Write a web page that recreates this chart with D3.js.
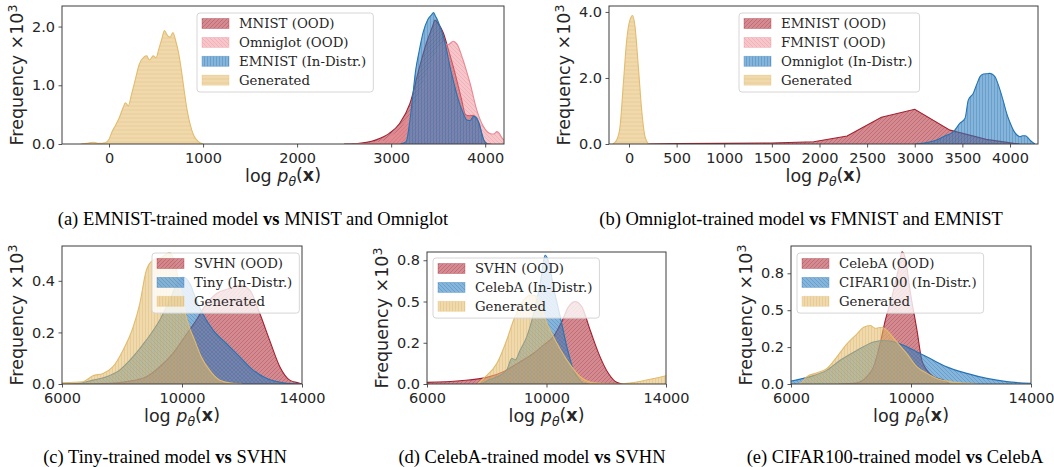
<!DOCTYPE html>
<html>
<head>
<meta charset="utf-8">
<script src="https://cdn.jsdelivr.net/npm/d3@7"></script>
<style>
  body { margin: 0; background: #fff; }
</style>
</head>
<body>
<div id="chart"></div>
<script>
// density curves, values in units of 10^3, keyed by log p(x)

// (a) EMNIST-trained model
const aMnist = [[2500,0],[2620,0.005],[2840,0.07],[2980,0.18],[3090,0.35],[3200,0.69],[3300,1.3],[3375,1.72],[3440,2.0],[3465,2.11],[3500,2.05],[3555,1.89],[3610,1.6],[3660,1.32],[3750,0.75],[3790,0.5],[3830,0.48],[3875,0.49],[3910,0.42],[3945,0.3],[3980,0.08],[4020,0.01],[4060,0]];
const aOmniglot = [[2600,0],[2750,0.01],[2910,0.04],[3000,0.12],[3090,0.24],[3160,0.38],[3230,0.58],[3290,0.8],[3340,1.03],[3390,1.22],[3445,1.43],[3500,1.6],[3555,1.72],[3605,1.69],[3660,1.75],[3700,1.7],[3765,1.43],[3800,1.25],[3840,1.03],[3910,0.58],[3980,0.3],[4050,0.18],[4090,0.17],[4125,0.21],[4150,0.18],[4180,0.1],[4230,0.04]];
const aEmnist = [[3100,0],[3160,0.04],[3195,0.35],[3225,0.75],[3260,1.25],[3300,1.6],[3340,1.9],[3390,2.12],[3430,2.2],[3450,2.24],[3470,2.18],[3490,2.12],[3520,2.0],[3555,1.83],[3590,1.6],[3625,1.32],[3670,1.02],[3715,0.75],[3760,0.55],[3805,0.41],[3840,0.4],[3875,0.47],[3900,0.46],[3930,0.38],[3960,0.2],[3985,0.07],[4020,0]];
const aGenerated = [[-300,0],[-230,0.01],[-170,0.03],[-110,0.01],[-40,0.02],[0,0.08],[30,0.2],[70,0.32],[110,0.45],[150,0.62],[175,0.7],[205,0.65],[240,0.85],[280,1.1],[320,1.35],[370,1.48],[400,1.5],[430,1.43],[470,1.5],[500,1.47],[530,1.62],[560,1.78],[590,1.93],[620,1.85],[650,1.82],[680,1.9],[710,1.75],[740,1.55],[770,1.25],[800,0.9],[830,0.58],[860,0.35],[900,0.15],[950,0.04],[1000,0]];

// (b) Omniglot-trained model
const bEmnist = [[200,0],[500,0.01],[1000,0.02],[1500,0.03],[1940,0.07],[2290,0.24],[2650,0.81],[3000,1.05],[3370,0.42],[3750,0.14],[4040,0.02],[4100,0]];
const bFmnist = [];
const bOmniglot = [[3000,0],[3100,0.03],[3230,0.12],[3320,0.25],[3405,0.37],[3475,0.63],[3528,0.78],[3562,1.33],[3615,1.54],[3650,1.8],[3685,2.04],[3720,2.12],[3760,2.13],[3790,2.14],[3842,2.04],[3870,1.85],[3895,1.64],[3930,1.3],[3965,0.93],[4000,0.65],[4035,0.42],[4070,0.28],[4105,0.22],[4130,0.25],[4160,0.25],[4185,0.2],[4210,0.12],[4262,0]];
const bGenerated = [[-170,0],[-129,0.12],[-94,0.53],[-59,1.84],[-24,3.15],[10,3.76],[38,3.89],[63,3.56],[98,2.34],[133,1.03],[168,0.22],[205,0]];

// (c) Tiny-trained model
const cSvhn = [[6500,0],[7590,0.003],[8370,0.013],[8810,0.028],[9260,0.067],[9700,0.119],[10090,0.183],[10480,0.248],[10810,0.31],[11140,0.35],[11590,0.37],[11920,0.383],[12260,0.364],[12590,0.274],[12920,0.17],[13260,0.067],[13590,0.015],[13920,0.003],[14000,0]];
const cTiny = [[6000,0],[6590,0.003],[7030,0.015],[7480,0.028],[7920,0.054],[8370,0.106],[8810,0.17],[9260,0.248],[9590,0.325],[9870,0.396],[10030,0.415],[10260,0.39],[10480,0.325],[10700,0.27],[11030,0.21],[11480,0.157],[11920,0.106],[12370,0.054],[12810,0.022],[13370,0.005],[13920,0]];
const cGenerated = [[6000,0.005],[6700,0.009],[7030,0.032],[7370,0.041],[7700,0.067],[8030,0.13],[8370,0.22],[8590,0.31],[8810,0.44],[9030,0.48],[9310,0.49],[9590,0.51],[9760,0.47],[9980,0.34],[10200,0.235],[10420,0.17],[10640,0.106],[10920,0.054],[11260,0.015],[11700,0.003],[12000,0]];

// (d) CelebA-trained model
const dSvhn = [[6000,0.01],[7110,0.02],[8010,0.04],[8560,0.075],[9120,0.135],[9570,0.186],[9900,0.236],[10230,0.287],[10510,0.378],[10740,0.469],[10960,0.499],[11180,0.469],[11460,0.327],[11790,0.166],[12070,0.065],[12350,0.01],[12570,0]];
const dCeleba = [[7700,0],[7840,0.004],[8060,0.024],[8340,0.044],[8670,0.085],[8840,0.156],[8950,0.146],[9120,0.206],[9340,0.287],[9570,0.428],[9790,0.61],[9955,0.78],[10070,0.742],[10230,0.59],[10460,0.408],[10680,0.226],[10900,0.085],[11070,0.034],[11240,0.004],[11400,0]];
const dGenerated = [[7700,0],[7890,0.034],[8340,0.125],[8670,0.267],[8900,0.388],[9230,0.509],[9510,0.54],[9680,0.53],[10010,0.368],[10350,0.247],[10680,0.146],[11130,0.044],[11570,0.008],[12460,0],[12690,0.004],[13240,0.02],[14000,0.05]];

// (e) CIFAR100-trained model
const eCeleba = [[7600,0],[8200,0.009],[8530,0.05],[8750,0.116],[8970,0.273],[9140,0.43],[9360,0.587],[9590,0.788],[9700,0.895],[9810,0.855],[9970,0.631],[10200,0.363],[10360,0.161],[10530,0.094],[10750,0.05],[11080,0.027],[11300,0]];
const eCifar = [[6000,0.02],[6640,0.05],[7200,0.094],[7640,0.161],[8200,0.228],[8750,0.284],[9030,0.295],[9360,0.289],[9750,0.262],[10200,0.217],[10640,0.172],[11190,0.116],[11860,0.072],[12530,0.038],[13190,0.016],[14000,0.005]];
const eGenerated = [[6200,0],[6310,0.004],[6530,0.05],[6870,0.076],[7200,0.105],[7530,0.184],[7870,0.273],[8200,0.34],[8420,0.385],[8640,0.396],[8810,0.378],[9030,0.385],[9250,0.351],[9530,0.284],[9860,0.206],[10200,0.116],[10530,0.072],[10860,0.038],[11300,0.016],[11860,0.004],[12200,0]];

// tick values and labels
const aXTicks = [0, 1000, 2000, 3000, 4000];
const bXTicks = [0, 500, 1000, 1500, 2000, 2500, 3000, 3500, 4000];
const cdeXTicks = [6000, 10000, 14000];
const aYTicks = [0, 1, 2], aYLabels = ['0.0', '1.0', '2.0'];
const bYTicks = [0, 2, 4], bYLabels = ['0.0', '2.0', '4.0'];
const cYTicks = [0, 0.2, 0.4], cYLabels = ['0.0', '0.2', '0.4'];
const deYTicks = [0, 0.25, 0.5, 0.75], deYLabels = ['0.0', '0.2', '0.5', '0.8'];

const captions = [
  ['(a) EMNIST-trained model ', 'vs', ' MNIST and Omniglot'],
  ['(b) Omniglot-trained model ', 'vs', ' FMNIST and EMNIST'],
  ['(c) Tiny-trained model ', 'vs', ' SVHN'],
  ['(d) CelebA-trained model ', 'vs', ' SVHN'],
  ['(e) CIFAR100-trained model ', 'vs', ' CelebA']
];

const styles = {
  red:    { fill: '#b83c48', op: 0.6,  line: '#a3202e', hatch: '#8a1522' },
  pink:   { fill: '#ee8d96', op: 0.5,  line: '#e98992', hatch: '#dd7580' },
  blue:   { fill: '#2f7fc1', op: 0.58, line: '#2474b5', hatch: '#185c98' },
  yellow: { fill: '#e3bb6a', op: 0.55, line: '#e3bb6e', hatch: '#cfa24c' }
};

const panels = [
  { id: 'a', box: { l: 62, r: 504, t: 6, b: 144 }, xDomain: [-500, 4200], yDomain: [0, 2.35],
    xTicks: aXTicks, yTicks: aYTicks, yLabels: aYLabels, legend: [197, 13], cap: [253, 225],
    series: [
      { name: 'MNIST (OOD)', data: aMnist, style: 'red', hatch: '/' },
      { name: 'Omniglot (OOD)', data: aOmniglot, style: 'pink', hatch: '\\' },
      { name: 'EMNIST (In-Distr.)', data: aEmnist, style: 'blue', hatch: '|' },
      { name: 'Generated', data: aGenerated, style: 'yellow', hatch: '-' }
    ] },
  { id: 'b', box: { l: 609, r: 1038, t: 6, b: 144 }, xDomain: [-210, 4294], yDomain: [0, 4.18],
    xTicks: bXTicks, yTicks: bYTicks, yLabels: bYLabels, legend: [739, 13], cap: [801, 225],
    series: [
      { name: 'EMNIST (OOD)', data: bEmnist, style: 'red', hatch: '/', linear: true },
      { name: 'FMNIST (OOD)', data: bFmnist, style: 'pink', hatch: '\\' },
      { name: 'Omniglot (In-Distr.)', data: bOmniglot, style: 'blue', hatch: '|' },
      { name: 'Generated', data: bGenerated, style: 'yellow', hatch: '-' }
    ] },
  { id: 'c', box: { l: 62, r: 302, t: 246, b: 384 }, xDomain: [6000, 14000], yDomain: [0, 0.535],
    xTicks: cdeXTicks, yTicks: cYTicks, yLabels: cYLabels, legend: [152, 253], cap: [165, 463],
    series: [
      { name: 'SVHN (OOD)', data: cSvhn, style: 'red', hatch: '/' },
      { name: 'Tiny (In-Distr.)', data: cTiny, style: 'blue', hatch: '\\' },
      { name: 'Generated', data: cGenerated, style: 'yellow', hatch: '|' }
    ] },
  { id: 'd', box: { l: 427, r: 666, t: 252, b: 384 }, xDomain: [6000, 14000], yDomain: [0, 0.8],
    xTicks: cdeXTicks, yTicks: deYTicks, yLabels: deYLabels, legend: [433, 258], cap: [532, 463],
    series: [
      { name: 'SVHN (OOD)', data: dSvhn, style: 'red', hatch: '/' },
      { name: 'CelebA (In-Distr.)', data: dCeleba, style: 'blue', hatch: '\\' },
      { name: 'Generated', data: dGenerated, style: 'yellow', hatch: '|' }
    ] },
  { id: 'e', box: { l: 791, r: 1031, t: 246, b: 384 }, xDomain: [6000, 14000], yDomain: [0, 0.935],
    xTicks: cdeXTicks, yTicks: deYTicks, yLabels: deYLabels, legend: [797, 253], cap: [895, 463],
    series: [
      { name: 'CelebA (OOD)', data: eCeleba, style: 'red', hatch: '/' },
      { name: 'CIFAR100 (In-Distr.)', data: eCifar, style: 'blue', hatch: '\\' },
      { name: 'Generated', data: eGenerated, style: 'yellow', hatch: '|' }
    ] }
];

const svg = d3.select('#chart').append('svg')
  .attr('width', 1054)
  .attr('height', 467);
const defs = svg.append('defs');

// hatched fill: translucent face colour with thin hatch strokes on top
function hatchPattern(id, st, kind) {
  const s = kind === '|' ? 3 : 4;
  const p = defs.append('pattern')
    .attr('id', id)
    .attr('patternUnits', 'userSpaceOnUse')
    .attr('width', s)
    .attr('height', s);
  p.append('rect').attr('width', s).attr('height', s)
    .attr('fill', st.fill).attr('fill-opacity', st.op);
  let d;
  if (kind === '/') d = `M0,${s} L${s},0 M-1,1 L1,-1 M${s - 1},${s + 1} L${s + 1},${s - 1}`;
  else if (kind === '\\') d = `M0,0 L${s},${s} M-1,${s - 1} L1,${s + 1} M${s - 1},-1 L${s + 1},1`;
  else if (kind === '|') d = `M${s / 2},0 V${s}`;
  else d = `M0,${s / 2} H${s}`;
  p.append('path').attr('d', d)
    .attr('stroke', st.hatch).attr('stroke-width', 0.7).attr('stroke-opacity', 0.35);
  return `url(#${id})`;
}

const textColor = '#262626';

function styleAxis(a) {
  a.attr('font-family', 'DejaVu Sans').attr('font-size', 14.5);
  a.select('.domain').remove();
  a.selectAll('line').attr('stroke', '#555');
  a.selectAll('text').attr('fill', textColor);
}

panels.forEach((p, pi) => {
  const g = svg.append('g');
  const x = d3.scaleLinear().domain(p.xDomain).range([p.box.l, p.box.r]);
  const y = d3.scaleLinear().domain(p.yDomain).range([p.box.b, p.box.t]);

  defs.append('clipPath').attr('id', `clip-${p.id}`)
    .append('rect')
    .attr('x', p.box.l).attr('y', p.box.t)
    .attr('width', p.box.r - p.box.l).attr('height', p.box.b - p.box.t);

  const plot = g.append('g').attr('clip-path', `url(#clip-${p.id})`);

  p.series.forEach((s, si) => {
    const st = styles[s.style];
    s.fillUrl = hatchPattern(`h-${p.id}-${si}`, st, s.hatch);
    if (!s.data.length) return;
    const curve = s.linear ? d3.curveLinear : d3.curveMonotoneX;
    const area = d3.area()
      .x(d => x(d[0]))
      .y0(y(0))
      .y1(d => y(d[1]))
      .curve(curve);
    const line = d3.line()
      .x(d => x(d[0]))
      .y(d => y(d[1]))
      .curve(curve);
    plot.append('path').datum(s.data)
      .attr('d', area)
      .attr('fill', s.fillUrl);
    plot.append('path').datum(s.data)
      .attr('d', line)
      .attr('fill', 'none')
      .attr('stroke', st.line)
      .attr('stroke-width', 1.1);
  });

  // axes
  g.append('g')
    .attr('transform', `translate(0, ${p.box.b})`)
    .call(d3.axisBottom(x).tickValues(p.xTicks).tickSize(3.5).tickPadding(5).tickFormat(d3.format('d')))
    .call(styleAxis);

  g.append('g')
    .attr('transform', `translate(${p.box.l}, 0)`)
    .call(d3.axisLeft(y).tickValues(p.yTicks).tickSize(3.5).tickPadding(3.5).tickFormat((d, i) => p.yLabels[i]))
    .call(styleAxis);

  g.append('rect')
    .attr('x', p.box.l).attr('y', p.box.t)
    .attr('width', p.box.r - p.box.l).attr('height', p.box.b - p.box.t)
    .attr('fill', 'none').attr('stroke', '#3d3d3d').attr('stroke-width', 1);

  // y label: Frequency ×10^3
  const cy = (p.box.t + p.box.b) / 2;
  const yl = g.append('text')
    .attr('transform', `translate(${p.box.l - 39}, ${cy}) rotate(-90)`)
    .attr('text-anchor', 'middle')
    .attr('font-family', 'DejaVu Sans')
    .attr('font-size', 17.5)
    .attr('fill', textColor);
  yl.append('tspan').text('Frequency ×10');
  yl.append('tspan').attr('dy', '-0.45em').attr('font-size', 12.5).text('3');

  // x label: log p_θ(x)
  const xl = g.append('text')
    .attr('x', (p.box.l + p.box.r) / 2)
    .attr('y', p.box.b + 38)
    .attr('text-anchor', 'middle')
    .attr('font-family', 'DejaVu Sans')
    .attr('font-size', 17.5)
    .attr('fill', textColor);
  xl.append('tspan').text('log ');
  xl.append('tspan').attr('font-style', 'italic').text('p');
  xl.append('tspan').attr('font-style', 'italic').attr('font-size', 12.5).attr('dy', '0.3em').text('θ');
  xl.append('tspan').attr('dy', '-0.3em').text('(');
  xl.append('tspan').attr('font-weight', 'bold').text('x');
  xl.append('tspan').text(')');

  // legend
  const lg = g.append('g').attr('transform', `translate(${p.legend[0]}, ${p.legend[1]})`);
  const box = lg.append('rect')
    .attr('rx', 3)
    .attr('fill', '#fff').attr('fill-opacity', 0.8)
    .attr('stroke', '#d6d6d6').attr('stroke-width', 1);
  let maxW = 0;
  p.series.forEach((s, si) => {
    const st = styles[s.style];
    const ry = 10.5 + si * 18.9;
    lg.append('rect')
      .attr('x', 5).attr('y', ry - 5)
      .attr('width', 27).attr('height', 10)
      .attr('fill', s.fillUrl)
      .attr('stroke', st.line).attr('stroke-opacity', 0.4).attr('stroke-width', 0.8);
    const t = lg.append('text')
      .attr('x', 42).attr('y', ry + 4.8)
      .attr('font-family', 'DejaVu Serif')
      .attr('font-size', 13.3)
      .attr('fill', textColor)
      .text(s.name);
    maxW = Math.max(maxW, t.node().getComputedTextLength());
  });
  box.attr('width', 42 + maxW + 7)
    .attr('height', p.series.length * 18.9 + 3.4);

  // caption
  const cap = captions[pi];
  const ct = svg.append('text')
    .attr('x', p.cap[0]).attr('y', p.cap[1])
    .attr('text-anchor', 'middle')
    .attr('font-family', 'Liberation Serif')
    .attr('font-size', 18.5)
    .attr('fill', '#000');
  ct.append('tspan').text(cap[0]);
  ct.append('tspan').attr('font-weight', 'bold').text(cap[1]);
  ct.append('tspan').text(cap[2]);
});
</script>
</body>
</html>
